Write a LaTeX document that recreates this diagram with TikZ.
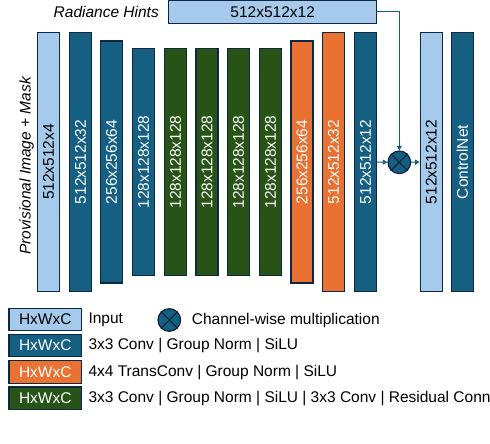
\documentclass[tikz,border=0pt]{standalone}
\usepackage{fontspec}
\setmainfont{Liberation Sans}
\usetikzlibrary{arrows.meta,positioning}
\definecolor{inLt}  {HTML}{A6CAEC}
\definecolor{convBl}{HTML}{156082}
\definecolor{upOr}  {HTML}{E97132}
\definecolor{resGr} {HTML}{275317}
\definecolor{edge}  {HTML}{0E2841}
\tikzset{
  blk/.style={draw=edge, line width=1.3pt, inner sep=0pt,
              font=\fontsize{15.5}{18}\selectfont},
  lyr/.style={blk, rotate=90, minimum height=22pt},
  inlyr/.style={fill=inLt, text=black},
  convlyr/.style={fill=convBl, text=white},
  uplyr/.style={fill=upOr, text=white},
  reslyr/.style={fill=resGr, text=white},
  mulop/.style={circle, draw=edge, line width=1.3pt, fill=convBl,
                minimum size=22.5pt, inner sep=0pt},
  link/.style={draw=convBl, line width=1pt, -{Triangle[length=4.5pt,width=5pt]}},
  lbl/.style={font=\fontsize{15.5}{18}\selectfont, inner sep=0pt}
}
\begin{document}
\begin{tikzpicture}[x=1pt,y=-1pt]
 \useasboundingbox (0,0) rectangle (490,444);
 % encoder / decoder layers
 \foreach \n/\x/\h/\lw/\sty/\lab in {
   1/37.5/258.5/1.3/inlyr/512x512x4,
   2/69.5/258.5/1.3/convlyr/512x512x32,
   3/100.5/242.6/1.9/convlyr/256x256x64,
   4/132.5/227.4/1.3/convlyr/128x128x128,
   5/164.5/227.4/1.3/reslyr/128x128x128,
   6/196/227.4/1.3/reslyr/128x128x128,
   7/227.5/227.4/1.3/reslyr/128x128x128,
   8/259.5/227.4/1.3/reslyr/128x128x128,
   9/291/242.6/1.9/uplyr/256x256x64,
   10/322.5/258.5/1.3/uplyr/512x512x32,
   11/354.5/258.5/1.3/convlyr/512x512x12,
   12/420.3/258.5/1.3/inlyr/512x512x12,
   13/451.3/258.5/1.3/convlyr/ControlNet}{
   \node[lyr, \sty, line width=\lw pt, minimum width=\h pt] (b\n) at (\x+11,162) {\lab};
 }
 \node[lbl, rotate=90] (prov) at (26.5,166) {\itshape Provisional Image + Mask};
 % radiance hints
 \node[blk, inlyr, minimum width=208pt, minimum height=22.6pt] (rh) at (272.7,12) {512x512x12};
 \node[lbl, anchor=east] (rhlab) at (159,12) {\itshape Radiance Hints};
 \node[mulop] (mul) at (399.3,162.3) {};
 \draw[edge, line width=1.3pt] (mul.north east) -- (mul.south west)
                               (mul.north west) -- (mul.south east);
 \draw[link] (rh.east) -| (mul);
 \draw[link] (b11) -- (mul);
 \draw[link] (mul) -- (b12);
 % legend
 \foreach \n/\y/\sty/\lab in {
   1/319.5/inlyr/Input,
   2/345.5/convlyr/3x3 Conv | Group Norm | SiLU,
   3/372/uplyr/4x4 TransConv | Group Norm | SiLU,
   4/398.2/reslyr/3x3 Conv | Group Norm | SiLU | 3x3 Conv | Residual Conn}{
   \node[blk, \sty, minimum width=72.7pt, minimum height=22.4pt] (key\n) at (45.3,\y) {HxWxC};
   \node[lbl, anchor=west] (keytxt\n) at (88.3,\y+0.5) {\lab};
 }
 \node[mulop] (keymul) at (169.3,320) {};
 \draw[edge, line width=1.3pt] (keymul.north east) -- (keymul.south west)
                               (keymul.north west) -- (keymul.south east);
 \node[lbl, anchor=west] (keymultxt) at (191.7,320.5) {Channel-wise multiplication};
\end{tikzpicture}
\end{document}
